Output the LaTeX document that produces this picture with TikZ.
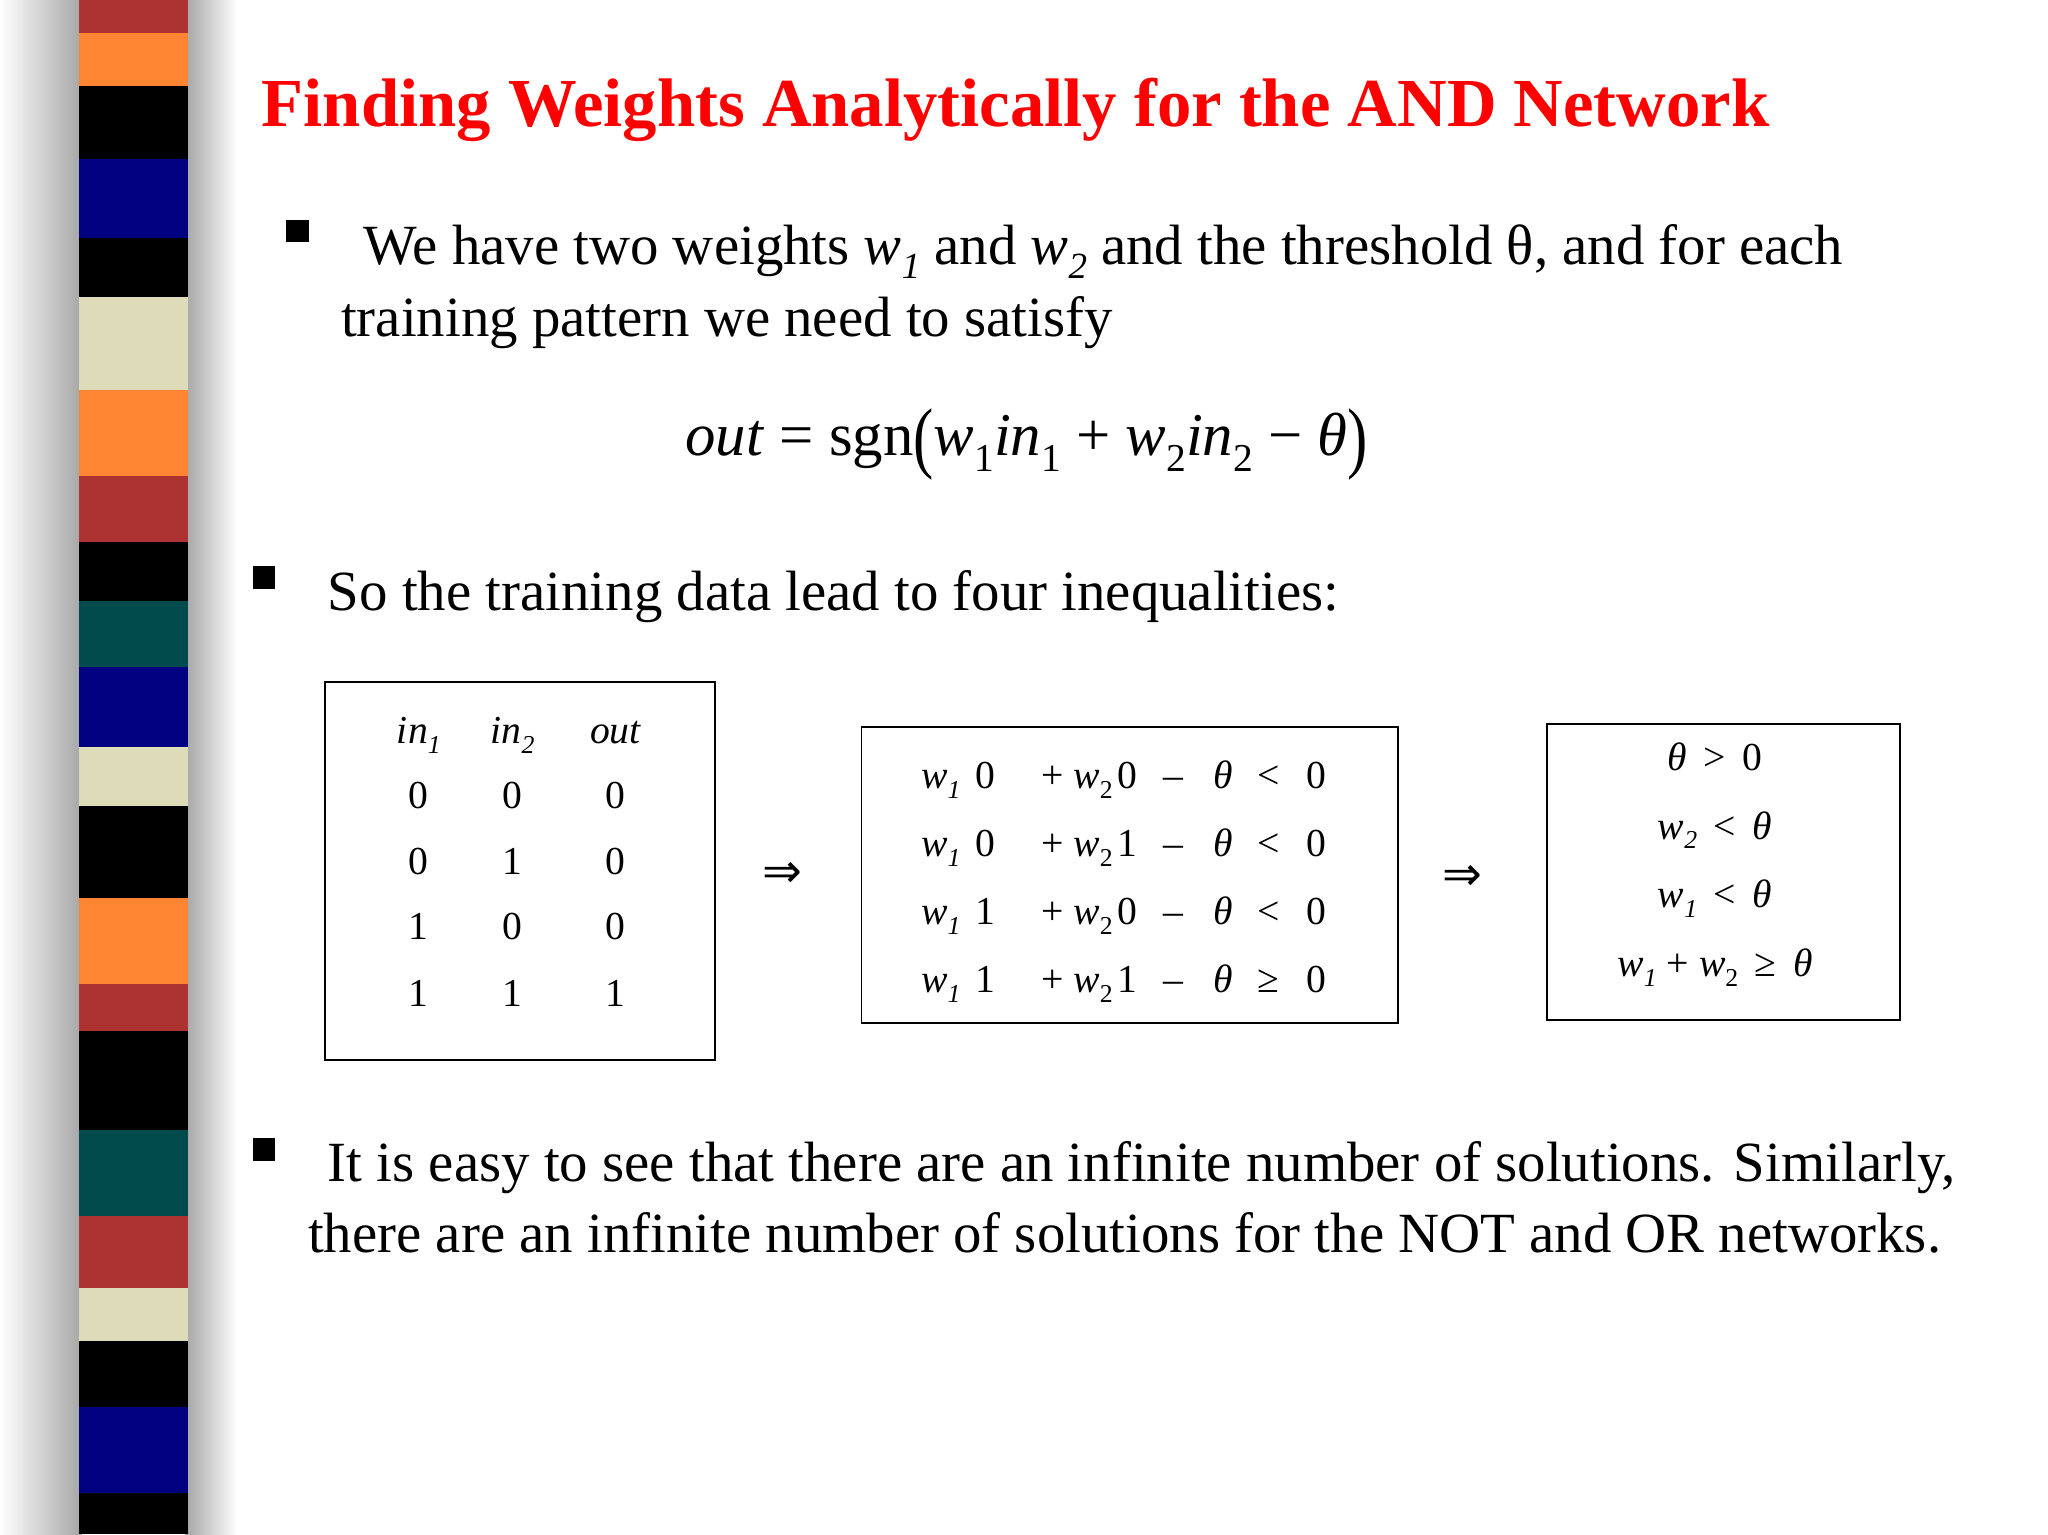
\documentclass[tikz,border=0pt]{standalone}
\usepackage{fontspec}
\setmainfont{Liberation Serif}
\newfontfamily\djv{DejaVu Sans}
\newcommand{\sbs}[1]{\raisebox{-0.25em}{\scalebox{0.65}{#1}}}
\newcommand{\bpar}[1]{\raisebox{-0.12em}{\scalebox{1}[1.3]{#1}}}
\begin{document}
\begin{tikzpicture}[x=1pt,y=-1pt,
  txt/.style={anchor=base west,inner sep=0,font=\fontsize{43}{50}\selectfont},
  cell/.style={anchor=base,inner sep=0,font=\fontsize{30}{36}\selectfont},
  bul/.style={fill=black,minimum size=17pt,inner sep=0},
  box/.style={draw,line width=1.3pt}]
\useasboundingbox (0,0) rectangle (1550,1161);
\fill[white] (0,0) rectangle (1550,1161);
\shade[left color=white,right color=black!35] (0,0) rectangle (62,1161);
\shade[left color=black!35,right color=white] (140,0) rectangle (180,1161);
\foreach \a/\b/\c in {0/25/red!60!black!80,25/65/orange!80!red!80,65/120/black,120/180/blue!50!black,180/225/black,225/295/yellow!20!white!85!black,295/360/orange!80!red!80,360/410/red!60!black!80,410/455/black,455/505/teal!60!black,505/565/blue!50!black,565/610/yellow!20!white!85!black,610/680/black,680/745/orange!80!red!80,745/780/red!60!black!80,780/855/black,855/920/teal!60!black,920/975/red!60!black!80,975/1015/yellow!20!white!85!black,1015/1065/black,1065/1130/blue!50!black,1130/1161/black}
  \fill[\c] (60,\a) rectangle (142,\b);
\node[anchor=base west,inner sep=0,text=red,font=\fontsize{52}{60}\selectfont\bfseries] (title) at (198,96) {Finding Weights Analytically for the AND Network};
\node[bul] (b1) at (225,175) {};
\node[txt] (l1) at (275,200) {We have two weights \textit{w}\sbs{\textit{1}} and \textit{w}\sbs{\textit{2}} and the threshold θ, and for each};
\node[txt] (l2) at (258,255) {training pattern we need to satisfy};
\node[anchor=base,inner sep=0,font=\fontsize{46}{54}\selectfont] (eq) at (777,345) {\textit{out} = sgn\bpar{(}\textit{w}\sbs{1}\textit{in}\sbs{1} + \textit{w}\sbs{2}\textit{in}\sbs{2} − \textit{θ}\bpar{)}};
\node[bul] (b2) at (200,437) {};
\node[txt] (l3) at (248,462) {So the training data lead to four inequalities:};
\draw[box] (246,516) rectangle (541,802);
\draw[box] (652,550) rectangle (1058,774);
\draw[box] (1171,548) rectangle (1438,772);
\node[cell] (h1) at (317,563) {\textit{in}\sbs{\textit{1}}};
\node[cell] (h2) at (388,563) {\textit{in}\sbs{\textit{2}}};
\node[cell] (h3) at (466,563) {\textit{out}};
\foreach \p/\q/\r/\y in {0/0/0/612,0/1/0/662,1/0/0/711,1/1/1/762}{
  \node[cell] at (317,\y) {\p};
  \node[cell] at (388,\y) {\q};
  \node[cell] at (466,\y) {\r};}
\node[cell,font=\djv\fontsize{36}{40}\selectfont] (arr1) at (592,672) {⇒};
\node[cell,font=\djv\fontsize{36}{40}\selectfont] (arr2) at (1107,674) {⇒};
\foreach \a/\b/\rel/\y in {0/0/</597,0/1/</648,1/0/</700,1/1/≥/751}{
  \node[cell] at (712,\y) {\textit{w}\sbs{\textit{1}}};
  \node[cell] at (746,\y) {\a};
  \node[cell] at (815,\y) {+ \textit{w}\sbs{2}};
  \node[cell] at (853,\y) {\b};
  \node[cell] at (888,\y) {–};
  \node[cell] at (926,\y) {\textit{θ}};
  \node[cell] at (960,\y) {\rel};
  \node[cell] at (996,\y) {0};}
\node[cell] (c1) at (1298,583) {\textit{θ} \,>\, 0};
\node[cell] (c2) at (1298,635) {\textit{w}\sbs{\textit{2}} \,<\, \textit{θ}};
\node[cell] (c3) at (1298,687) {\textit{w}\sbs{\textit{1}} \,<\, \textit{θ}};
\node[cell] (c4) at (1298,739) {\textit{w}\sbs{\textit{1}} + \textit{w}\sbs{2} \,≥\, \textit{θ}};
\node[bul] (b3) at (200,870) {};
\node[txt] (l4) at (248,894) {It is easy to see that there are an infinite number of solutions. Similarly,};
\node[txt] (l5) at (233,948) {there are an infinite number of solutions for the NOT and OR networks.};
\end{tikzpicture}
\end{document}
